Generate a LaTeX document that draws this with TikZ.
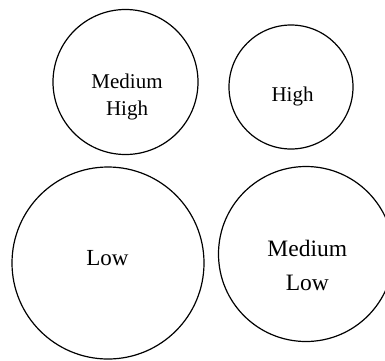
\documentclass[tikz,border=0pt]{standalone}
\usepackage{fontspec}
\setmainfont{Liberation Serif}
\begin{document}
\begin{tikzpicture}[x=1pt,y=-1pt,
  bubble/.style={draw=black,line width=1.2pt,circle,inner sep=0pt},
  lbl/.style={inner sep=0pt,align=center,anchor=base}]
\useasboundingbox (0,0) rectangle (385,360);
\clip (0,0) rectangle (385,360);
\node[bubble,minimum size=145pt] (mh) at (125.5,82) {};
\node[bubble,minimum size=124pt] (h) at (291,87) {};
\node[bubble,minimum size=192pt] (l) at (108,263) {};
\node[bubble,minimum size=175pt] (ml) at (306,254) {};
\node[lbl,font=\fontsize{21}{26.7}\selectfont] (tmh) at (127,115) {Medium\\High};
\node[lbl,font=\fontsize{21}{26}\selectfont] (th) at (292.5,101.7) {High};
\node[lbl,font=\fontsize{23}{28}\selectfont] (tl) at (107.5,265) {Low};
\node[lbl,font=\fontsize{23.5}{34}\selectfont] (tml) at (307.3,290.7) {Medium\\Low};
\end{tikzpicture}
\end{document}
